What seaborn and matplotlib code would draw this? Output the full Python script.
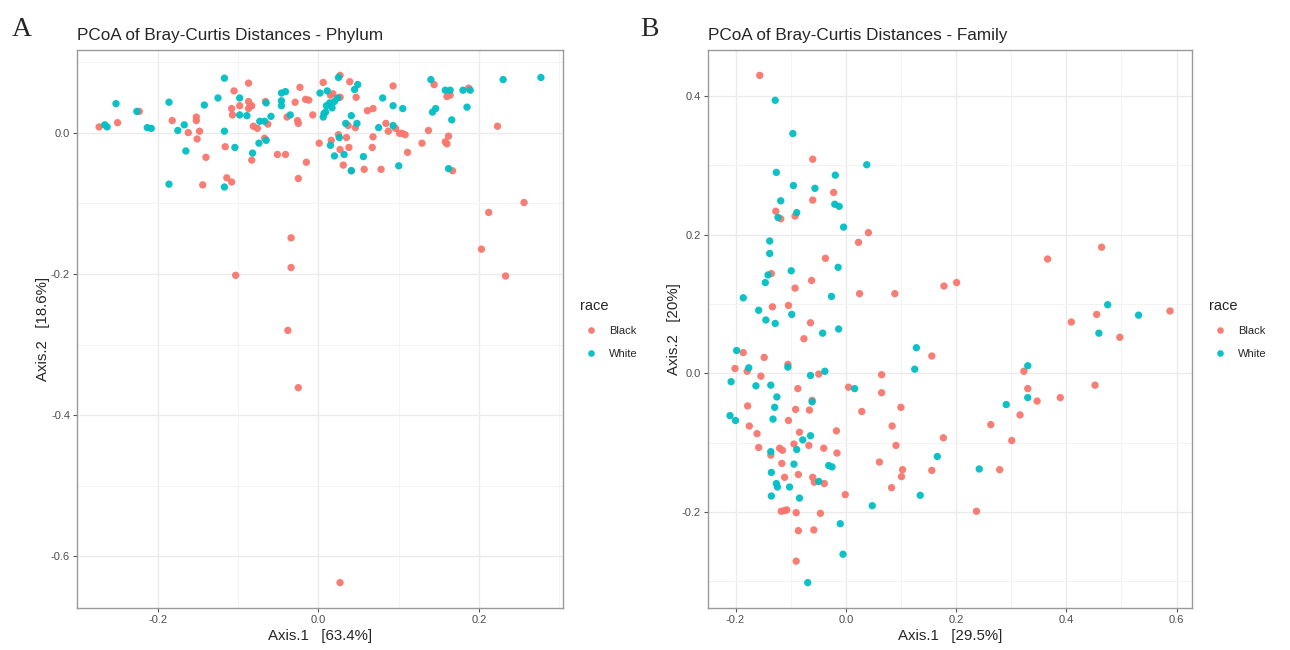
import numpy as np
import pandas as pd
import matplotlib
matplotlib.use("Agg")
import matplotlib.pyplot as plt
from matplotlib.ticker import MultipleLocator, FormatStrFormatter
import seaborn as sns

# ---- Panel A: phylum level PCoA (Axis.1, Axis.2) ----
phylum_black_x = [-0.105, -0.108, -0.098, -0.107, -0.223, -0.250, -0.273, -0.182, -0.162, -0.152,
                  -0.152, -0.148, -0.151, -0.116, -0.140, -0.144, -0.114, -0.108, -0.087, -0.087,
                  -0.085, -0.087, -0.083, -0.081, -0.076, -0.063, -0.066, -0.023, -0.029, -0.016,
                  -0.012, -0.039, -0.026, -0.025, -0.007, 0.006, 0.015, 0.018, 0.027, 0.039,
                  0.047, 0.027, 0.037, 0.046, 0.061, 0.068, 0.093, 0.084, 0.087, 0.096,
                  0.101, -0.067, -0.083, -0.051, -0.041, -0.015, -0.025, 0.001, 0.016, 0.025,
                  0.035, 0.027, 0.038, 0.031, 0.041, 0.057, 0.068, 0.067, 0.078, 0.144,
                  0.160, 0.164, 0.187, 0.137, 0.104, 0.108, 0.162, 0.158, 0.160, 0.129,
                  0.111, 0.223, 0.167, 0.256, 0.212, 0.203, 0.233, -0.034, -0.034, -0.103,
                  -0.038, -0.025, 0.027]
phylum_black_y = [0.059, 0.034, 0.038, 0.025, 0.030, 0.014, 0.008, 0.017, 0.000, 0.022,
                  0.017, 0.002, -0.009, -0.020, -0.035, -0.074, -0.064, -0.070, 0.070, 0.044,
                  0.038, 0.034, 0.038, 0.009, 0.006, 0.012, 0.044, 0.064, 0.043, 0.047,
                  0.046, 0.022, 0.017, 0.013, 0.025, 0.071, 0.053, 0.055, 0.081, 0.072,
                  0.050, 0.050, 0.010, 0.007, 0.031, 0.034, 0.066, 0.013, 0.002, 0.006,
                  -0.001, -0.008, -0.039, -0.031, -0.031, -0.042, -0.065, -0.015, -0.011, -0.003,
                  -0.007, -0.024, -0.021, -0.046, -0.054, -0.052, -0.006, -0.021, -0.052, 0.068,
                  0.051, 0.053, 0.063, 0.003, -0.001, -0.003, -0.005, -0.013, -0.016, -0.015,
                  -0.028, 0.009, -0.054, -0.099, -0.113, -0.165, -0.203, -0.149, -0.191, -0.202,
                  -0.280, -0.361, -0.637]
phylum_white_x = [-0.117, -0.098, -0.252, -0.186, -0.142, -0.125, -0.098, -0.226, -0.266, -0.263,
                  -0.213, -0.208, -0.167, -0.175, -0.117, -0.104, -0.165, -0.186, -0.117, -0.089,
                  -0.073, -0.067, -0.059, -0.065, -0.046, -0.041, -0.046, -0.046, -0.035, 0.002,
                  0.011, 0.025, 0.045, 0.049, 0.014, 0.020, 0.024, 0.017, 0.010, 0.007,
                  0.009, 0.006, 0.041, 0.034, 0.048, 0.080, 0.093, 0.075, 0.093, -0.065,
                  -0.074, -0.082, 0.015, 0.026, 0.020, 0.032, 0.041, 0.056, 0.100, 0.140,
                  0.158, 0.164, 0.180, 0.189, 0.230, 0.277, 0.105, 0.142, 0.146, 0.185,
                  0.166, 0.162]
phylum_white_y = [0.077, 0.049, 0.041, 0.043, 0.039, 0.049, 0.025, 0.030, 0.011, 0.008,
                  0.007, 0.006, 0.011, 0.003, 0.002, -0.021, -0.026, -0.073, -0.077, 0.024,
                  0.016, 0.016, 0.023, 0.042, 0.056, 0.058, 0.045, 0.038, 0.025, 0.056,
                  0.059, 0.078, 0.061, 0.068, 0.042, 0.044, 0.049, 0.035, 0.038, 0.027,
                  0.029, 0.022, 0.024, 0.013, 0.013, 0.049, 0.038, 0.007, 0.010, -0.011,
                  -0.015, -0.029, -0.018, -0.007, -0.033, -0.031, -0.054, -0.034, -0.047, 0.075,
                  0.060, 0.060, 0.060, 0.060, 0.075, 0.078, 0.034, 0.029, 0.034, 0.036,
                  0.018, -0.051]

# ---- Panel B: family level PCoA ----
family_black_x = [-0.156, -0.060, -0.022, -0.060, -0.127, -0.118, -0.092, 0.041, 0.023, -0.037,
                  -0.135, -0.062, -0.092, 0.025, 0.089, -0.133, -0.104, -0.064, -0.076, -0.186,
                  -0.148, -0.201, -0.179, -0.105, -0.154, -0.049, -0.087, 0.005, 0.065, 0.065,
                  -0.178, -0.091, -0.066, -0.061, 0.029, -0.104, -0.175, -0.161, -0.084, -0.017,
                  0.084, -0.158, -0.136, -0.120, -0.115, -0.094, -0.067, -0.040, -0.016, 0.091,
                  -0.116, 0.061, -0.086, -0.111, -0.060, -0.057, -0.039, 0.083, -0.001, -0.117,
                  -0.111, -0.107, -0.090, -0.046, -0.086, -0.058, -0.090, 0.464, 0.366, 0.201,
                  0.178, 0.455, 0.588, 0.409, 0.497, 0.156, 0.100, 0.103, 0.101, 0.156,
                  0.177, 0.323, 0.330, 0.347, 0.389, 0.452, 0.316, 0.263, 0.301, 0.279,
                  0.237]
family_black_y = [0.430, 0.309, 0.261, 0.250, 0.234, 0.223, 0.227, 0.203, 0.189, 0.166,
                  0.144, 0.134, 0.123, 0.115, 0.115, 0.096, 0.098, 0.073, 0.050, 0.030,
                  0.023, 0.007, 0.003, 0.013, -0.004, -0.001, -0.022, -0.020, -0.002, -0.028,
                  -0.047, -0.052, -0.053, -0.039, -0.055, -0.068, -0.076, -0.087, -0.085, -0.083,
                  -0.076, -0.107, -0.118, -0.108, -0.111, -0.102, -0.104, -0.108, -0.115, -0.104,
                  -0.130, -0.128, -0.146, -0.150, -0.150, -0.157, -0.159, -0.165, -0.175, -0.199,
                  -0.198, -0.197, -0.201, -0.202, -0.227, -0.226, -0.271, 0.182, 0.165, 0.131,
                  0.126, 0.085, 0.090, 0.074, 0.052, 0.025, -0.049, -0.139, -0.149, -0.140,
                  -0.093, 0.003, -0.022, -0.040, -0.035, -0.017, -0.060, -0.074, -0.097, -0.139,
                  -0.199]
family_white_x = [-0.128, -0.096, 0.038, -0.126, -0.019, -0.095, -0.056, -0.118, -0.020, -0.012,
                  -0.089, -0.123, -0.004, -0.138, -0.138, -0.014, -0.141, -0.099, -0.146, -0.186,
                  -0.026, -0.158, -0.098, -0.145, -0.128, -0.042, -0.013, -0.198, -0.176, -0.105,
                  -0.208, -0.163, -0.136, -0.064, -0.038, -0.125, 0.016, -0.129, -0.061, -0.210,
                  -0.132, -0.200, -0.064, -0.078, -0.136, -0.089, -0.094, -0.031, -0.025, -0.135,
                  -0.049, -0.126, -0.124, -0.102, -0.135, -0.084, 0.048, -0.010, -0.005, -0.069,
                  0.475, 0.531, 0.459, 0.128, 0.125, 0.330, 0.330, 0.291, 0.166, 0.135,
                  0.242]
family_white_y = [0.394, 0.346, 0.301, 0.290, 0.286, 0.271, 0.267, 0.249, 0.244, 0.241,
                  0.232, 0.225, 0.211, 0.191, 0.173, 0.153, 0.142, 0.148, 0.131, 0.109,
                  0.111, 0.091, 0.085, 0.077, 0.072, 0.058, 0.064, 0.033, 0.008, 0.009,
                  -0.012, -0.018, -0.017, -0.003, 0.003, -0.034, -0.022, -0.049, -0.041, -0.061,
                  -0.066, -0.068, -0.090, -0.096, -0.113, -0.110, -0.131, -0.133, -0.135, -0.143,
                  -0.156, -0.159, -0.164, -0.164, -0.177, -0.180, -0.191, -0.217, -0.261, -0.302,
                  0.099, 0.084, 0.058, 0.037, 0.006, 0.011, -0.035, -0.045, -0.120, -0.176,
                  -0.138]

races = ["Black", "White"]
palette = {"Black": "#F8766D", "White": "#00BFC4"}


def make_df(bx, by, wx, wy):
    return pd.DataFrame({
        "Axis.1": bx + wx,
        "Axis.2": by + wy,
        "race": ["Black"] * len(bx) + ["White"] * len(wx),
    })


phylum = make_df(phylum_black_x, phylum_black_y, phylum_white_x, phylum_white_y)
family = make_df(family_black_x, family_black_y, family_white_x, family_white_y)

sns.set_style("white")
plt.rcParams["font.family"] = ["Liberation Sans", "DejaVu Sans"]
plt.rcParams["axes.unicode_minus"] = False

fig = plt.figure(figsize=(12.9, 6.5), dpi=100)
ax_a = fig.add_axes([77 / 1290, 42 / 650, 486 / 1290, 558 / 650])
ax_b = fig.add_axes([708 / 1290, 42 / 650, 484 / 1290, 558 / 650])

panels = [
    (ax_a, phylum, "PCoA of Bray-Curtis Distances - Phylum", "Axis.1   [63.4%]", "Axis.2   [18.6%]"),
    (ax_b, family, "PCoA of Bray-Curtis Distances - Family", "Axis.1   [29.5%]", "Axis.2   [20%]"),
]

for ax, df, title, xlab, ylab in panels:
    sns.scatterplot(data=df, x="Axis.1", y="Axis.2", hue="race", hue_order=races,
                    palette=palette, s=28, linewidth=0, alpha=0.95, ax=ax, zorder=3)
    # ggplot style 5% expansion
    for setter, col in ((ax.set_xlim, "Axis.1"), (ax.set_ylim, "Axis.2")):
        lo, hi = df[col].min(), df[col].max()
        pad = 0.05 * (hi - lo)
        setter(lo - pad, hi + pad)
    ax.xaxis.set_major_locator(MultipleLocator(0.2))
    ax.yaxis.set_major_locator(MultipleLocator(0.2))
    ax.xaxis.set_minor_locator(MultipleLocator(0.1))
    ax.yaxis.set_minor_locator(MultipleLocator(0.1))
    ax.xaxis.set_major_formatter(FormatStrFormatter("%.1f"))
    ax.yaxis.set_major_formatter(FormatStrFormatter("%.1f"))
    ax.grid(which="major", color="#EBEBEB", linewidth=1.0, zorder=0)
    ax.grid(which="minor", color="#F3F3F3", linewidth=0.7, zorder=0)
    ax.set_axisbelow(True)
    ax.tick_params(which="major", direction="out", length=3, width=0.8, color="#555555",
                   labelsize=8, labelcolor="#4D4D4D", pad=2, bottom=True, left=True)
    ax.tick_params(which="minor", length=0)
    for sp in ax.spines.values():
        sp.set_color("#9A9A9A")
        sp.set_linewidth(1.0)
    ax.set_title(title, loc="left", fontsize=12.3, pad=7)
    ax.set_xlabel(xlab, fontsize=10.8, labelpad=3)
    ax.set_ylabel(ylab, fontsize=10.8, labelpad=1)
    sns.move_legend(ax, loc="center left", bbox_to_anchor=(1.015, 0.5), frameon=False,
                    title="race", fontsize=8, title_fontsize=10.5, markerscale=0.9,
                    handletextpad=0.6, labelspacing=1.15, alignment="left")

fig.text(12 / 1290, 1 - 36 / 650, "A", family="Liberation Serif", fontsize=20)
fig.text(640 / 1290, 1 - 36 / 650, "B", family="Liberation Serif", fontsize=20)

fig.savefig("out.png", dpi=100)
